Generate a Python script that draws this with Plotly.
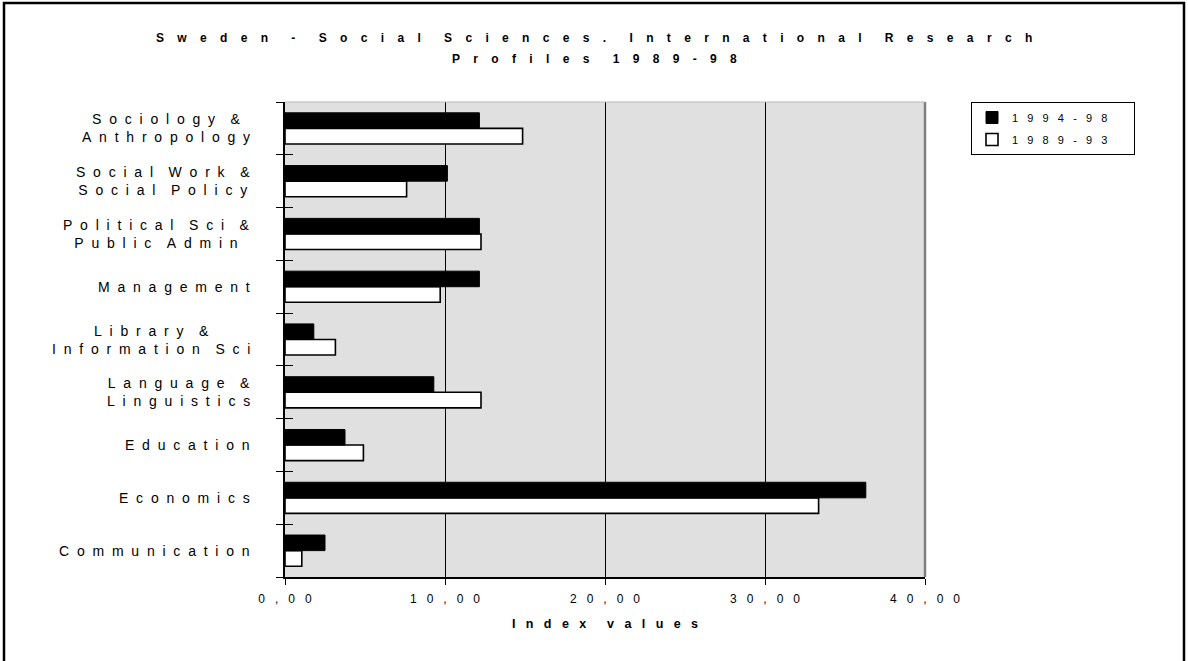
import plotly.graph_objects as go

# ---- data ----
categories = [
    "Communication",
    "Economics",
    "Education",
    "Language & Linguistics",
    "Library & Information Sci",
    "Management",
    "Political Sci & Public Admin",
    "Social Work & Social Policy",
    "Sociology & Anthropology",
]
label_lines = [
    ["Communication"],
    ["Economics"],
    ["Education"],
    ["Language &", "Linguistics"],
    ["Library &", "Information Sci"],
    ["Management"],
    ["Political Sci &", "Public Admin"],
    ["Social Work &", "Social Policy"],
    ["Sociology &", "Anthropology"],
]
series_names = ["1994-98", "1989-93"]
values_1994_98 = [2.5, 36.3, 3.75, 9.3, 1.8, 12.15, 12.15, 10.15, 12.15]
values_1989_93 = [1.05, 33.35, 4.9, 12.25, 3.15, 9.7, 12.25, 7.6, 14.85]
x_tickvals = [0, 10, 20, 30, 40]
x_ticklabels = ["0,00", "10,00", "20,00", "30,00", "40,00"]
title_lines = ["Sweden - Social Sciences. International Research", "Profiles 1989-98"]
x_title = "Index values"

NB = "\u00a0"


def spaced(s, k=2, kw=4):
    words = s.split(" ")
    return (NB * kw).join((NB * k).join(w) for w in words)


FONT = "Arial, Liberation Sans, sans-serif"

L, R, T, B = 285, 263, 102, 84
W, H = 1188, 661
pw, ph = W - L - R, H - T - B


def px_x(x):
    return (x - L) / pw


def px_y(y):
    return (H - B - y) / ph


fig = go.Figure()

# white bars first (plotted lower within each group), black bars above
fig.add_trace(go.Bar(
    y=categories, x=values_1989_93, orientation="h",
    name=spaced(series_names[1], 3, 3) + NB * 7,
    marker=dict(color="white", line=dict(color="black", width=1.6)),
    legendgroup="b", legendrank=2, hoverinfo="x+y",
))
fig.add_trace(go.Bar(
    y=categories, x=values_1994_98, orientation="h",
    name=spaced(series_names[0], 3, 3) + NB * 7,
    marker=dict(color="black", line=dict(color="black", width=1)),
    legendgroup="a", legendrank=1, hoverinfo="x+y",
))
# invisible helper trace for the inside ticks on the overlay axis
fig.add_trace(go.Scatter(
    y=categories, x=[0] * len(categories), yaxis="y2", mode="markers",
    marker=dict(opacity=0), showlegend=False, hoverinfo="skip",
))

# category labels (centered multi-line text to the left of the axis)
for cat, lines in zip(categories, label_lines):
    fig.add_annotation(
        x=0, xref="paper", y=cat, yref="y",
        xanchor="right", yanchor="middle", align="center", xshift=-33,
        text="<br>".join(spaced(l, 2, 4) for l in lines),
        showarrow=False,
        font=dict(family=FONT, size=14, color="black"),
    )

# title (two lines)
for t, ypix in zip(title_lines, [38, 59]):
    fig.add_annotation(
        x=px_x(594), xref="paper", y=px_y(ypix), yref="paper",
        xanchor="center", yanchor="middle", showarrow=False,
        text="<b>" + spaced(t, 4, 7) + "</b>",
        font=dict(family=FONT, size=12, color="black"),
    )

# outer page border
fig.add_shape(type="rect", xref="paper", yref="paper",
              x0=px_x(4), x1=px_x(1184),
              y0=-1.0, y1=px_y(3),
              line=dict(color="black", width=2.5), layer="above")
# plot frame right/top edges (grey)
fig.add_shape(type="line", xref="paper", yref="paper", x0=1, x1=1, y0=0, y1=1,
              line=dict(color="#808080", width=2.5), layer="above")
fig.add_shape(type="line", xref="paper", yref="paper", x0=0, x1=1, y0=1, y1=1,
              line=dict(color="#b8b8b8", width=1), layer="above")

fig.update_layout(
    width=W, height=H,
    margin=dict(l=L, r=R, t=T, b=B),
    paper_bgcolor="white",
    plot_bgcolor="#e0e0e0",
    barmode="group",
    bargap=0.41,
    bargroupgap=0,
    font=dict(family=FONT, size=12, color="black"),
    showlegend=True,
    legend=dict(
        x=px_x(971), xanchor="left",
        y=px_y(102), yanchor="top",
        bgcolor="white", bordercolor="black", borderwidth=1,
        traceorder="grouped", tracegroupgap=3,
        font=dict(family=FONT, size=11, color="black"),
    ),
    xaxis=dict(
        range=[0, 40], tickvals=x_tickvals,
        ticktext=[spaced(t, 3, 3) for t in x_ticklabels],
        ticks="outside", ticklen=6, tickcolor="black", tickwidth=1,
        showline=True, linecolor="black", linewidth=1.5,
        showgrid=True, gridcolor="black", gridwidth=1,
        zeroline=False,
        tickfont=dict(family=FONT, size=12, color="black"),
        ticklabelstandoff=4,
        title=dict(text="<b>" + spaced(x_title, 3, 6) + "</b>",
                   font=dict(family=FONT, size=12.5, color="black"),
                   standoff=14),
        fixedrange=True,
    ),
    yaxis=dict(
        type="category", categoryorder="array", categoryarray=categories,
        range=[-0.5, len(categories) - 0.5],
        ticks="outside", tickson="boundaries", ticklen=7,
        tickcolor="black", tickwidth=1,
        showline=True, linecolor="black", linewidth=2,
        showticklabels=False, showgrid=False, zeroline=False,
        fixedrange=True,
    ),
    yaxis2=dict(
        type="category", categoryorder="array", categoryarray=categories,
        overlaying="y", matches="y", side="left",
        ticks="inside", tickson="boundaries", ticklen=8,
        tickcolor="black", tickwidth=1,
        showline=False, showticklabels=False, showgrid=False, zeroline=False,
        fixedrange=True,
    ),
)

fig.write_html(
    "out.html",
    config={"displayModeBar": False},
    post_script="document.body.style.margin='0';document.body.style.overflow='hidden';",
)
